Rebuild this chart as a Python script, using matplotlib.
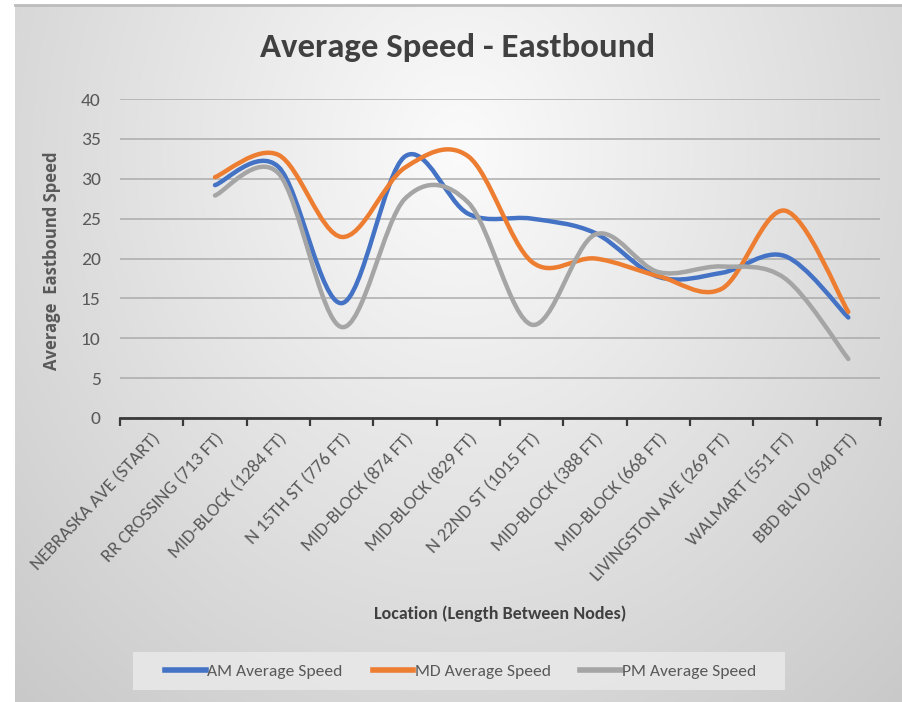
import numpy as np
import matplotlib
matplotlib.use("Agg")
import matplotlib.pyplot as plt
from matplotlib.path import Path
from matplotlib.patches import PathPatch, Rectangle

# ---- data -----------------------------------------------------------------
locations = [
    "NEBRASKA AVE (START)", "RR CROSSING (713 FT)", "MID-BLOCK (1284 FT)",
    "N 15TH ST (776 FT)", "MID-BLOCK (874 FT)", "MID-BLOCK (829 FT)",
    "N 22ND ST (1015 FT)", "MID-BLOCK (388 FT)", "MID-BLOCK (668 FT)",
    "LIVINGSTON AVE (269 FT)", "WALMART (551 FT)", "BBD BLVD (940 FT)",
]
# speeds start at the second node (no value at the start node)
am_speed = [29.2, 31.5, 14.4, 32.8, 25.6, 25.0, 23.2, 17.7, 18.2, 20.3, 12.6]
md_speed = [30.2, 33.0, 22.7, 31.4, 32.8, 19.6, 20.0, 17.8, 16.2, 26.0, 13.3]
pm_speed = [27.9, 30.7, 11.4, 27.5, 27.0, 11.7, 23.0, 18.3, 19.0, 17.5, 7.4]
series_names = ["AM Average Speed", "MD Average Speed", "PM Average Speed"]
series_colors = ["#4472C4", "#ED7D31", "#A5A5A5"]
y_ticks = [0, 5, 10, 15, 20, 25, 30, 35, 40]

plt.rcParams["font.family"] = ["Carlito", "DejaVu Sans"]

W, H = 902, 702
fig = plt.figure(figsize=(W / 100, H / 100), dpi=100)
fig.patch.set_facecolor("white")

# ---- soft radial background ----------------------------------------------
bx0, by0 = 15, 5  # pixel offsets of the chart frame (left, top)
bg_ax = fig.add_axes([bx0 / W, 0, 1 - bx0 / W, 1 - by0 / H], zorder=-5)
yy, xx = np.mgrid[by0:H, bx0:W]
d = np.sqrt(((xx - 460) / 480.0) ** 2 + ((yy - 150) / 560.0) ** 2)
g = np.clip(251 - 37 * d, 0, 255) / 255.0
bg_ax.imshow(np.dstack([g, g, g]), aspect="auto", interpolation="bilinear")
bg_ax.axis("off")
fig.add_artist(plt.Line2D([bx0 / W, 1], [1 - by0 / H, 1 - by0 / H],
                          color="#bcbcbc", lw=2.0, transform=fig.transFigure))

# ---- plot area ------------------------------------------------------------
left, right, top, bottom = 120, 880, 99, 418
ax = fig.add_axes([left / W, (H - bottom) / H, (right - left) / W, (bottom - top) / H])
ax.set_facecolor("none")
n = len(locations)
ax.set_xlim(0, n)
ax.set_ylim(0, 40)


def smooth_path(xs, ys):
    """Cubic Bezier through the points, Catmull-Rom style tangents."""
    pts = np.column_stack([xs, ys]).astype(float)
    verts = [pts[0]]
    codes = [Path.MOVETO]
    m = len(pts)
    for i in range(m - 1):
        p0 = pts[i - 1] if i > 0 else pts[i]
        p1, p2 = pts[i], pts[i + 1]
        p3 = pts[i + 2] if i + 2 < m else pts[i + 1]
        c1 = p1 + (p2 - p0) / 6.0
        c2 = p2 - (p3 - p1) / 6.0
        verts += [c1, c2, p2]
        codes += [Path.CURVE4] * 3
    return Path(verts, codes)


x_pos = np.arange(1, n) + 0.5
for vals, color in zip([am_speed, md_speed, pm_speed], series_colors):
    patch = PathPatch(smooth_path(x_pos, vals), facecolor="none", edgecolor=color,
                      lw=3.2, capstyle="round", joinstyle="round", zorder=3)
    ax.add_patch(patch)

# gridlines
ax.set_yticks(y_ticks)
ax.yaxis.grid(True, color="#a8a8a8", lw=1.3, alpha=0.8)
ax.set_axisbelow(True)
ax.tick_params(axis="y", length=0, pad=14, labelsize=14, labelcolor="#595959")

for s in ["left", "right", "top"]:
    ax.spines[s].set_visible(False)
ax.spines["bottom"].set_color("#3a3a3a")
ax.spines["bottom"].set_linewidth(2.0)
ax.spines["bottom"].set_zorder(4)

# category ticks between categories, labels at centres
ax.set_xticks(np.arange(n) + 0.5)
ax.set_xticklabels(locations, rotation=47, ha="right", va="top",
                   rotation_mode="anchor", fontsize=13.5, color="#595959")
ax.tick_params(axis="x", which="major", length=0, pad=9)
ax.set_xticks(np.arange(n + 1), minor=True)
ax.tick_params(axis="x", which="minor", length=6, width=1.6, color="#3a3a3a",
               direction="out")

# titles
fig.text(458 / W, 1 - 48 / H, "Average Speed - Eastbound", ha="center", va="center",
         fontsize=25, fontweight="bold", color="#404040")
fig.text(52 / W, 1 - 261 / H, "Average  Eastbound Speed", ha="center", va="center",
         rotation=90, fontsize=12, fontweight="bold", color="#595959",
         family=["Open Sans", "DejaVu Sans"])
fig.text(500 / W, 1 - 614 / H, "Location (Length Between Nodes)", ha="center",
         va="center", fontsize=13, fontweight="bold", color="#404040")

# legend on a light panel
fig.add_artist(Rectangle((133 / W, 1 - 690 / H), (785 - 133) / W, 38 / H,
                         transform=fig.transFigure, facecolor="#e9e9e9",
                         edgecolor="none", alpha=0.85, zorder=1))
handles = [plt.Line2D([], [], color=c, lw=4) for c in series_colors]
leg = fig.legend(handles, series_names, loc="center", ncol=3,
                 bbox_to_anchor=(461 / W, 1 - 671 / H), frameon=False,
                 fontsize=12.6, handlelength=2.3, handletextpad=0.1,
                 columnspacing=1.7)
leg.set_zorder(2)
for t in leg.get_texts():
    t.set_color("#595959")

fig.savefig("out.png", dpi=100)
